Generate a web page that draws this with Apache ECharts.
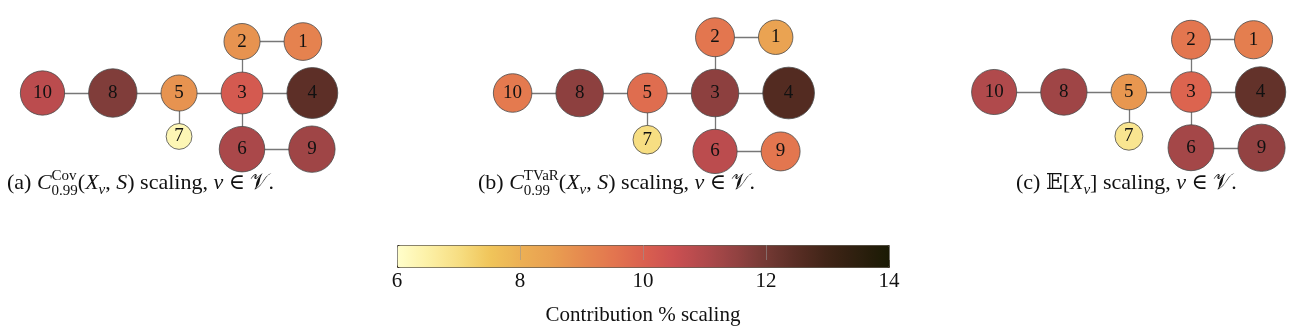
<!DOCTYPE html>
<html><head><meta charset="utf-8">
<script src="https://cdn.jsdelivr.net/npm/echarts@6/dist/echarts.min.js"></script>
<style>html,body{margin:0;padding:0;background:#fff}#c{width:1296px;height:327px}</style>
</head><body><div id="c"></div>
<script>
// ---------------- data ----------------
const nodeNames = ['1', '2', '3', '4', '5', '6', '7', '8', '9', '10'];
const edgePairs = [['10', '8'], ['8', '5'], ['5', '3'], ['3', '4'], ['3', '2'], ['2', '1'], ['5', '7'], ['3', '6'], ['6', '9']];
const covValues  = [9.2, 8.8, 10.2, 12.4, 8.8, 11.1, 6.3, 11.8, 11.3, 10.8];
const tvarValues = [8.4, 9.5, 11.6, 12.6, 9.7, 10.8, 7.0, 11.6, 9.5, 9.4];
const meanValues = [9.3, 9.5, 9.9, 12.3, 8.7, 11.2, 6.8, 11.3, 11.5, 11.0];
const colorMin = 6;
const colorMax = 14;
const colorTickStep = 2;
const colorbarTitle = 'Contribution % scaling';

// ---------------- styling / layout ----------------
const SERIF = '"Liberation Serif", "DejaVu Serif", serif';
const lajolla = ['#FFFECB', '#FCF0A6', '#F7DE82', '#F0C55A', '#ECB054', '#E9A051', '#E68A4F', '#E3764F',
  '#DA604F', '#CB5051', '#B04A4C', '#934242', '#733934', '#582D24', '#3F2417', '#2D1F0E', '#1A1A04'];
const RADIUS_PER_UNIT = 2.05, H_GAP = 24, V_GAP = 12.5;
const panels = [
  { key: 'a', values: covValues, anchor: [242, 93] },
  { key: 'b', values: tvarValues, anchor: [715, 93] },
  { key: 'c', values: meanValues, anchor: [1191, 92] }
];

function layoutPanel(vals, cx, cy) {
  const r = {};
  nodeNames.forEach((n, i) => { r[n] = RADIUS_PER_UNIT * vals[i]; });
  const p = {};
  p['3'] = [cx, cy];
  p['5'] = [cx - r['3'] - H_GAP - r['5'], cy];
  p['8'] = [p['5'][0] - r['5'] - H_GAP - r['8'], cy];
  p['10'] = [p['8'][0] - r['8'] - H_GAP - r['10'], cy];
  p['4'] = [cx + r['3'] + H_GAP + r['4'], cy];
  p['2'] = [cx, cy - r['3'] - V_GAP - r['2']];
  p['1'] = [cx + r['2'] + H_GAP + r['1'], p['2'][1]];
  p['7'] = [p['5'][0], cy + r['5'] + V_GAP + r['7']];
  p['6'] = [cx, cy + r['3'] + V_GAP + r['6']];
  p['9'] = [cx + r['6'] + H_GAP + r['9'], p['6'][1]];
  return { p, r };
}

const nodes = [], links = [];
panels.forEach(pan => {
  const { p, r } = layoutPanel(pan.values, pan.anchor[0], pan.anchor[1]);
  nodeNames.forEach((n, i) => {
    nodes.push({ id: pan.key + n, name: n, value: pan.values[i], x: p[n][0], y: p[n][1], symbolSize: 2 * r[n] });
  });
  edgePairs.forEach(([s, t]) => links.push({ source: pan.key + s, target: pan.key + t }));
});
const xs = nodes.map(d => d.x), ys = nodes.map(d => d.y);
const bx0 = Math.min(...xs), bx1 = Math.max(...xs), by0 = Math.min(...ys), by1 = Math.max(...ys);

// ---------------- captions ----------------
const ctx = document.createElement('canvas').getContext('2d');
const CAP = 22, SUB = 15;
function font(size, it) { return (it ? 'italic ' : '') + size + 'px ' + SERIF; }
function buildCaption(parts, x0, baseY) {
  const els = [];
  let x = x0;
  const put = (q) => {
    const size = q.size || CAP;
    const f = font(size, q.it);
    ctx.font = f;
    const w = ctx.measureText(q.t).width;
    els.push({ type: 'text', x: x, y: baseY + (q.dy || 0) - 0.34 * size, silent: true,
      style: { text: q.t, font: f, fill: '#111', align: 'left', verticalAlign: 'middle' } });
    return w;
  };
  parts.forEach(q => {
    if (q.stack) {
      let w = 0;
      q.stack.forEach(s => { w = Math.max(w, put(s)); });
      x += w;
    } else {
      x += put(q);
    }
  });
  return els;
}
const capA = buildCaption([
  { t: '(a) ' }, { t: 'C', it: true },
  { stack: [{ t: 'Cov', size: SUB, dy: -10 }, { t: '0.99', size: SUB, dy: 5 }] },
  { t: '(' }, { t: 'X', it: true }, { t: 'v', it: true, size: SUB, dy: 4 }, { t: ', ' }, { t: 'S', it: true },
  { t: ') scaling, ' }, { t: 'v', it: true }, { t: ' ∈ ' }, { t: '𝒱' }, { t: '.' }
], 7, 191);
const capB = buildCaption([
  { t: '(b) ' }, { t: 'C', it: true },
  { stack: [{ t: 'TVaR', size: SUB, dy: -10 }, { t: '0.99', size: SUB, dy: 5 }] },
  { t: '(' }, { t: 'X', it: true }, { t: 'v', it: true, size: SUB, dy: 4 }, { t: ', ' }, { t: 'S', it: true },
  { t: ') scaling, ' }, { t: 'v', it: true }, { t: ' ∈ ' }, { t: '𝒱' }, { t: '.' }
], 478, 191);
const capC = buildCaption([
  { t: '(c) ' }, { t: '𝔼' }, { t: '[' }, { t: 'X', it: true }, { t: 'v', it: true, size: SUB, dy: 4 },
  { t: '] scaling, ' }, { t: 'v', it: true }, { t: ' ∈ ' }, { t: '𝒱' }, { t: '.' }
], 1016, 191);

// ---------------- chart ----------------
const chart = echarts.init(document.getElementById('c'), null, { renderer: 'canvas' });
chart.setOption({
  animation: false,
  backgroundColor: '#fff',
  grid: { left: 397, top: 245, width: 492, height: 22, show: false },
  xAxis: {
    type: 'value', min: colorMin, max: colorMax, interval: colorTickStep, z: 10,
    axisLine: { show: false }, axisTick: { show: false },
    splitLine: { show: true, lineStyle: { color: 'rgba(150,150,150,0.55)', width: 1 } },
    axisLabel: { fontFamily: SERIF, fontSize: 21, color: '#111', margin: 11 },
    name: colorbarTitle, nameLocation: 'middle', nameGap: 45,
    nameTextStyle: { fontFamily: SERIF, fontSize: 21, color: '#111' }
  },
  yAxis: { type: 'value', show: false, min: 0, max: 1 },
  visualMap: {
    type: 'continuous', min: colorMin, max: colorMax, seriesIndex: 0, orient: 'horizontal',
    left: 397, top: 245, itemWidth: 22, itemHeight: 492, calculable: false, hoverLink: false,
    padding: 0, borderWidth: 1, borderColor: '#3d3525', inRange: { color: lajolla }
  },
  graphic: [...capA, ...capB, ...capC],
  series: [{
    type: 'graph', layout: 'none', roam: false,
    left: bx0, top: by0, width: bx1 - bx0, height: by1 - by0,
    data: nodes, links: links,
    itemStyle: { borderColor: '#4a4a4a', borderWidth: 0.8 },
    lineStyle: { color: '#777', width: 1.3, opacity: 1, curveness: 0 },
    label: { show: true, position: 'inside', formatter: '{b}', fontFamily: SERIF, fontSize: 19, color: '#111' },
    emphasis: { disabled: true }
  }]
});
</script></body></html>
